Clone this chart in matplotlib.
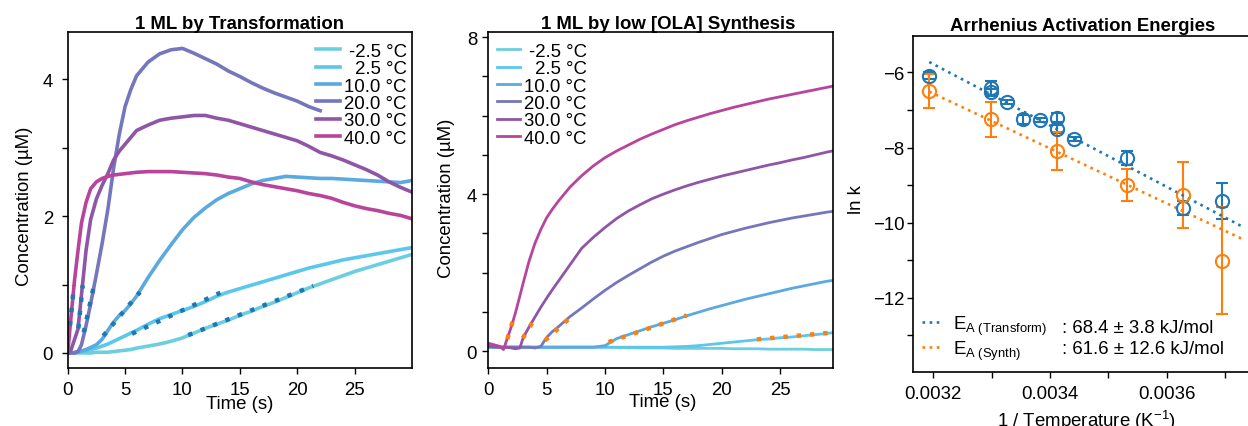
import numpy as np
import matplotlib
matplotlib.use("Agg")
import matplotlib.pyplot as plt
from matplotlib.ticker import MultipleLocator, FixedLocator

plt.rcParams["font.family"] = ["Liberation Sans", "DejaVu Sans"]
plt.rcParams["mathtext.fontset"] = "custom"
plt.rcParams["mathtext.rm"] = "Liberation Sans"
plt.rcParams["mathtext.it"] = "Liberation Sans:italic"
plt.rcParams["mathtext.bf"] = "Liberation Sans:bold"
plt.rcParams["font.size"] = 13.4

# ---- data ----
temps = ["-2.5 °C", " 2.5 °C", "10.0 °C", "20.0 °C", "30.0 °C", "40.0 °C"]
colors = ["#6ccfdf", "#5bc7ec", "#5aa9df", "#7576bc", "#8f56a6", "#b9449b"]

# 1 ML by Transformation (concentration in uM)
t_trans = [0, 0.3, 0.6, 0.9, 1.2, 1.6, 2, 2.5, 3, 3.5, 4, 4.5, 5, 5.5, 6, 7, 8, 9, 10,
           11, 12, 13, 14, 15, 16, 17, 18, 19, 20, 21, 22, 23, 24, 25, 26, 27, 28, 29, 30]
trans_m2_5 = [0, 0, 0, 0, 0, 0, 0, 0.01, 0.01, 0.01, 0.02, 0.03, 0.04, 0.05, 0.07, 0.1, 0.13, 0.17, 0.22,
              0.29, 0.36, 0.42, 0.48, 0.55, 0.61, 0.68, 0.74, 0.81, 0.88, 0.95, 1.01, 1.07, 1.13, 1.19, 1.24, 1.29, 1.34, 1.39, 1.44]
trans_2_5 = [0, 0, 0, 0.01, 0.02, 0.03, 0.05, 0.07, 0.1, 0.13, 0.17, 0.21, 0.25, 0.29, 0.33, 0.42, 0.5, 0.56, 0.62,
             0.68, 0.75, 0.83, 0.89, 0.94, 0.99, 1.04, 1.09, 1.14, 1.19, 1.24, 1.28, 1.32, 1.36, 1.39, 1.42, 1.45, 1.48, 1.51, 1.54]
trans_10 = [0, 0, 0.01, 0.02, 0.03, 0.05, 0.08, 0.12, 0.2, 0.33, 0.45, 0.55, 0.62, 0.72, 0.83, 1.1, 1.35, 1.58, 1.8,
            1.98, 2.12, 2.24, 2.33, 2.4, 2.47, 2.52, 2.55, 2.58, 2.57, 2.56, 2.55, 2.55, 2.54, 2.53, 2.52, 2.51, 2.5, 2.49, 2.52]
trans_20 = [0, 0, 0, 0.02, 0.12, 0.4, 0.72, 1.15, 1.6, 2.1, 2.7, 3.2, 3.6, 3.85, 4.05, 4.25, 4.37, 4.43, 4.45,
            4.38, 4.3, 4.22, 4.12, 4.04, 3.95, 3.87, 3.8, 3.74, 3.68, 3.6, 3.54, np.nan, np.nan, np.nan, np.nan,
            np.nan, np.nan, np.nan, np.nan]
trans_30 = [0, 0.05, 0.2, 0.35, 0.85, 1.5, 1.95, 2.25, 2.45, 2.62, 2.82, 2.95, 3.05, 3.15, 3.25, 3.33, 3.4, 3.43, 3.45,
            3.47, 3.47, 3.43, 3.4, 3.35, 3.3, 3.25, 3.2, 3.15, 3.1, 3.02, 2.93, 2.88, 2.82, 2.75, 2.68, 2.6, 2.5, 2.42, 2.35]
trans_40 = [0, 0.55, 1.07, 1.5, 1.9, 2.2, 2.4, 2.5, 2.55, 2.58, 2.6, 2.61, 2.62, 2.63, 2.64, 2.65, 2.65, 2.65, 2.64,
            2.63, 2.62, 2.6, 2.57, 2.55, 2.5, 2.46, 2.43, 2.4, 2.37, 2.33, 2.3, 2.26, 2.2, 2.15, 2.11, 2.08, 2.04, 2.01, 1.96]
trans_curves = [trans_m2_5, trans_2_5, trans_10, trans_20, trans_30, trans_40]
# initial-rate fits: (t start, t end), (c start, c end)
trans_fit_t = [(10.5, 21.4), (5.6, 13.3), (3.1, 6.3), (1.4, 2.24), (0.93, 1.31), (0.2, 0.55)]
trans_fit_c = [(0.26, 0.98), (0.28, 0.88), (0.25, 0.89), (0.3, 0.95), (0.36, 0.99), (0.4, 0.99)]

# 1 ML by low [OLA] Synthesis
t_synth = [0, 1, 1.3, 1.6, 2, 2.3, 2.7, 3, 3.5, 4, 4.5, 5, 5.5, 6, 7, 8, 9, 10, 11, 12, 13,
           14, 15, 16, 17, 18, 19, 20, 21, 22, 23, 24, 25, 26, 27, 28, 29, 29.5]
synth_m2_5 = [0.1, 0.1, 0.1, 0.1, 0.1, 0.1, 0.1, 0.1, 0.1, 0.1, 0.1, 0.1, 0.1, 0.1, 0.1, 0.1, 0.1, 0.1, 0.09, 0.09, 0.08,
              0.08, 0.08, 0.07, 0.07, 0.07, 0.07, 0.07, 0.06, 0.06, 0.06, 0.05, 0.05, 0.05, 0.05, 0.04, 0.04, 0.04]
synth_2_5 = [0.1, 0.1, 0.1, 0.1, 0.1, 0.1, 0.1, 0.1, 0.1, 0.1, 0.1, 0.1, 0.1, 0.1, 0.1, 0.1, 0.1, 0.1, 0.1, 0.1, 0.1,
             0.1, 0.1, 0.11, 0.12, 0.14, 0.17, 0.2, 0.23, 0.26, 0.29, 0.31, 0.34, 0.36, 0.39, 0.42, 0.45, 0.47]
synth_10 = [0.1, 0.1, 0.1, 0.1, 0.1, 0.1, 0.1, 0.1, 0.1, 0.1, 0.1, 0.1, 0.1, 0.1, 0.1, 0.1, 0.1, 0.14, 0.32, 0.42, 0.52,
            0.62, 0.71, 0.8, 0.9, 0.99, 1.08, 1.16, 1.24, 1.32, 1.39, 1.46, 1.53, 1.6, 1.66, 1.72, 1.78, 1.8]
synth_20 = [0.12, 0.1, 0.1, 0.1, 0.1, 0.1, 0.1, 0.1, 0.1, 0.08, 0.12, 0.35, 0.5, 0.62, 0.88, 1.1, 1.33, 1.55, 1.75, 1.93, 2.1,
            2.27, 2.42, 2.55, 2.66, 2.77, 2.87, 2.97, 3.05, 3.13, 3.2, 3.27, 3.33, 3.39, 3.44, 3.49, 3.54, 3.56]
synth_30 = [0.12, 0.1, 0.1, 0.1, 0.08, 0.06, 0.08, 0.35, 0.62, 0.87, 1.12, 1.35, 1.57, 1.78, 2.2, 2.62, 2.9, 3.15, 3.38, 3.57, 3.73,
            3.88, 4.0, 4.11, 4.21, 4.3, 4.38, 4.46, 4.53, 4.6, 4.67, 4.74, 4.8, 4.87, 4.93, 5.0, 5.07, 5.1]
synth_40 = [0.2, 0.12, 0.04, 0.3, 0.65, 0.95, 1.4, 1.75, 2.3, 2.75, 3.1, 3.4, 3.62, 3.82, 4.18, 4.47, 4.72, 4.93, 5.1, 5.25, 5.4,
            5.53, 5.65, 5.77, 5.87, 5.96, 6.05, 6.13, 6.21, 6.28, 6.35, 6.42, 6.48, 6.54, 6.6, 6.66, 6.72, 6.75]
synth_curves = [synth_m2_5, synth_2_5, synth_10, synth_20, synth_30, synth_40]
synth_fit_t = [(23.0, 29.4), (10.3, 17.0), (4.86, 7.37), (2.95, 4.15), (1.63, 2.29)]
synth_fit_c = [(0.3, 0.47), (0.23, 0.91), (0.27, 0.95), (0.33, 0.91), (0.31, 0.95)]

# Arrhenius
temp_trans_C = [40, 30, 30, 27.5, 25, 22.5, 20, 20, 17.5, 10, 2.5, -2.5]
lnk_trans = [-6.09, -6.42, -6.52, -6.78, -7.25, -7.26, -7.20, -7.50, -7.77, -8.27, -9.61, -9.42]
err_trans = [0.09, 0.2, 0.08, 0.05, 0.12, 0.05, 0.13, 0.1, 0.05, 0.19, 0.18, 0.47]
temp_synth_C = [40, 30, 20, 10, 2.5, -2.5]
lnk_synth = [-6.49, -7.25, -8.10, -8.99, -9.26, -11.01]
err_synth = [0.45, 0.47, 0.51, 0.42, 0.88, 1.43]
fit_invT = [0.003193, 0.003729]
fit_lnk_trans = [-5.72, -10.10]
fit_lnk_synth = [-6.51, -10.43]

W, H = 1248, 427
fig = plt.figure(figsize=(W / 100, H / 100), dpi=100)


def px_axes(x0, y_top, x1, y_bot):
    return fig.add_axes([x0 / W, 1 - y_bot / H, (x1 - x0) / W, (y_bot - y_top) / H])


def style(ax, pad):
    for s in ax.spines.values():
        s.set_linewidth(1.2)
    ax.tick_params(which="both", direction="out", length=4.5, width=1.0, labelsize=13.4)
    ax.tick_params(axis="y", which="both", pad=pad)
    ax.tick_params(axis="x", which="both", pad=5)


ax1 = px_axes(67.7, 33, 412, 369)
ax2 = px_axes(488.3, 33, 832.7, 369)
ax3 = px_axes(912.7, 36.7, 1252, 372.7)

fit_style = dict(linestyle=(0, (1, 2.0)), lw=3.2, solid_capstyle="butt", dash_capstyle="butt")

# panel 1
for lab, col, c in zip(temps, colors, trans_curves):
    ax1.plot(t_trans, c, color=col, lw=2.6, label=lab)
for (ta, tb), (ca, cb) in zip(trans_fit_t, trans_fit_c):
    ax1.plot([ta, tb], [ca, cb], color="#1f77b4", **fit_style)
ax1.set_xlim(0, 30)
ax1.set_ylim(-0.22, 4.69)
ax1.xaxis.set_major_locator(FixedLocator([0, 5, 10, 15, 20, 25]))
ax1.yaxis.set_major_locator(MultipleLocator(2))
ax1.yaxis.set_minor_locator(MultipleLocator(1))
ax1.set_title("1 ML by Transformation", fontweight="bold", fontsize=13.4, pad=3)
ax1.set_xlabel("Time (s)")
ax1.set_ylabel("Concentration (µM)")
ax1.xaxis.set_label_coords(0.5, -0.08)
ax1.yaxis.set_label_coords(-0.10, 0.483)
style(ax1, 6)
leg1 = ax1.legend(loc="upper right", bbox_to_anchor=(0.985, 0.968), frameon=False,
                  borderpad=0, borderaxespad=0, handlelength=1.24, handletextpad=0.25,
                  labelspacing=0.02)

# panel 2
for lab, col, c in zip(temps, colors, synth_curves):
    ax2.plot(t_synth, c, color=col, lw=2.0, label=lab)
for (ta, tb), (ca, cb) in zip(synth_fit_t, synth_fit_c):
    ax2.plot([ta, tb], [ca, cb], color="#ff7f0e", **fit_style)
ax2.set_xlim(0, 29.5)
ax2.set_ylim(-0.43, 8.13)
ax2.xaxis.set_major_locator(FixedLocator([0, 5, 10, 15, 20, 25]))
ax2.yaxis.set_major_locator(MultipleLocator(4))
ax2.yaxis.set_minor_locator(MultipleLocator(1))
ax2.set_title("1 ML by low [OLA] Synthesis", fontweight="bold", fontsize=13.4, pad=3, x=0.522)
ax2.set_xlabel("Time (s)")
ax2.set_ylabel("Concentration (µM)")
ax2.xaxis.set_label_coords(0.506, -0.075)
ax2.yaxis.set_label_coords(-0.097, 0.508)
style(ax2, 3.5)
leg2 = ax2.legend(loc="upper left", bbox_to_anchor=(0.024, 0.968), frameon=False,
                  borderpad=0, borderaxespad=0, handlelength=1.24, handletextpad=0.25,
                  labelspacing=0.02)

# panel 3
inv_trans = 1 / (np.array(temp_trans_C) + 273.15)
inv_synth = 1 / (np.array(temp_synth_C) + 273.15)
eb = dict(fmt="o", ms=9.5, mfc="none", mew=1.5, elinewidth=1.5, capsize=4.5, capthick=1.5, ls="none")
ax3.errorbar(inv_trans, lnk_trans, yerr=err_trans, color="#1f77b4", **eb)
ax3.errorbar(inv_synth, lnk_synth, yerr=err_synth, color="#ff7f0e", **eb)
dot = dict(linestyle=(0, (1, 1.7)), lw=1.9)
l1, = ax3.plot(fit_invT, fit_lnk_trans, color="#1f77b4", **dot)
l2, = ax3.plot(fit_invT, fit_lnk_synth, color="#ff7f0e", **dot)
ax3.set_xlim(0.0031646, 0.0037462)
ax3.set_ylim(-13.97, -5.02)
ax3.xaxis.set_major_locator(MultipleLocator(0.0002))
ax3.xaxis.set_minor_locator(MultipleLocator(0.0001))
ax3.yaxis.set_major_locator(MultipleLocator(2))
ax3.yaxis.set_minor_locator(MultipleLocator(1))
ax3.spines["right"].set_visible(False)
ax3.set_title("Arrhenius Activation Energies", fontweight="bold", fontsize=13.4, pad=4)
ax3.set_xlabel("1 / Temperature (K$^{-1}$)")
ax3.set_ylabel("ln k")
ax3.xaxis.set_label_coords(0.513, -0.108)
ax3.yaxis.set_label_coords(-0.141, 0.514)
style(ax3, 1.5)
ax3.legend([l1, l2], [r"E$_{\mathrm{A\ (Transform)}}$", r"E$_{\mathrm{A\ (Synth)}}$"],
           loc="lower left", bbox_to_anchor=(0.0265, 0.03), frameon=False,
           borderpad=0, borderaxespad=0, handlelength=1.16, handletextpad=0.54,
           labelspacing=0.1)
ax3.text(0.441, 0.118, ": 68.4 ± 3.8 kJ/mol", transform=ax3.transAxes, va="baseline")
ax3.text(0.441, 0.056, ": 61.6 ± 12.6 kJ/mol", transform=ax3.transAxes, va="baseline")

# right-align the temperature labels inside the legends
fig.canvas.draw()
renderer = fig.canvas.get_renderer()
for leg in (leg1, leg2):
    texts = leg.get_texts()
    widths = [t.get_window_extent(renderer).width for t in texts]
    wmax = max(widths)
    for t, w in zip(texts, widths):
        t.set_x(wmax - w)

fig.savefig("out.png", dpi=100)
